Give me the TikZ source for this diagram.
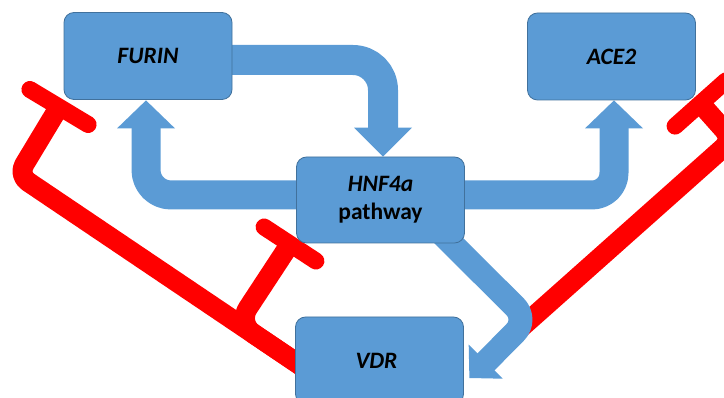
\documentclass[tikz,border=0pt]{standalone}
\usepackage{fontspec}
\setmainfont{Carlito}
\usetikzlibrary{calc}
\pgfdeclarelayer{redlayer}
\pgfdeclarelayer{bluelayer}
\pgfsetlayers{redlayer,bluelayer,main}
\definecolor{boxblue}{RGB}{91,155,213}
\definecolor{boxline}{RGB}{65,113,156}
\definecolor{inhred}{RGB}{255,0,0}
\begin{document}
\begin{tikzpicture}[x=1pt,y=-1pt,
  genebox/.style={rectangle, rounded corners=10pt, fill=boxblue, draw=boxline, line width=0.8pt,
    minimum width=168pt, minimum height=87pt, inner sep=0pt,
    font=\fontsize{23.5}{28}\selectfont\bfseries\itshape, text=black},
  shaft/.style={draw=boxblue, line cap=butt, line join=round},
  headfill/.style={fill=boxblue},
  inh/.style={draw=inhred, line width=20pt, line cap=butt, line join=round},
  tbar/.style={draw=inhred, line width=17pt, line cap=round},
]
\useasboundingbox (0,0) rectangle (724,398);

\node[genebox] (furin) at (148,56) {FURIN};
\node[genebox] (ace) at (611.5,56.5) {ACE2};
\node[genebox, minimum height=86pt, align=center] (hnf) at (380.5,200) {HNF4a\\{\upshape pathway}};
\node[genebox] (vdr) at (379.5,360.5) {VDR\hspace*{6pt}};

% blue activation arrows
\begin{pgfonlayer}{bluelayer}
% FURIN -> HNF4a
\coordinate (a1s) at ($(furin.east)+(-20,4)$);
\coordinate (a1e) at ($(hnf.north)+(2.5,-28)$);
\draw[shaft, line width=30pt, rounded corners=30pt] (a1s) -| (a1e);
\fill[headfill] ($(hnf.north)+(-26.5,-29)$) -- ($(hnf.north)+(31.5,-29)$) -- ($(hnf.north)+(2.5,0)$) -- cycle;
% HNF4a -> FURIN
\coordinate (hs) at ($(hnf.center)+(0,-5)$);
\coordinate (a2e) at ($(furin.south)+(-2,27.5)$);
\draw[shaft, line width=29pt, rounded corners=25pt] (hs) -| (a2e);
\fill[headfill] ($(furin.south)+(-31,28.5)$) -- ($(furin.south)+(27,28.5)$) -- ($(furin.south)+(-2,0.5)$) -- cycle;
% HNF4a -> ACE2
\coordinate (a3e) at ($(ace.south)+(2.5,27)$);
\draw[shaft, line width=29pt, rounded corners=22pt] (hs) -| (a3e);
\fill[headfill] ($(ace.south)+(-26.5,28)$) -- ($(ace.south)+(31.5,28)$) -- ($(ace.south)+(2.5,0)$) -- cycle;
% HNF4a -> VDR
\coordinate (a4s) at ($(hnf.center)+(49.5,22)$);
\coordinate (a4c) at ($(vdr.east)+(64,-41)$);
\coordinate (a4e) at ($(vdr.east)+(20.5,3)$);
\draw[shaft, line width=24pt, rounded corners=18pt] (a4s) -- (a4c) -- (a4e);
\fill[headfill] ($(vdr.east)+(4.8,-15.8)$) -- ($(vdr.east)+(38.8,18.2)$) -- ($(vdr.east)+(5.5,17.5)$) -- cycle;
\end{pgfonlayer}

% red inhibition lines
\begin{pgfonlayer}{redlayer}
\coordinate (rL) at ($(vdr.center)+(-49.5,24.8)$);
\coordinate (cL) at (18,175);
\coordinate (bL) at (59,107);
\draw[inh, rounded corners=12pt] (rL) -- (cL) -- (bL);
\draw[tbar] (29.9,89.5) -- (88.1,124.5);
% VDR -| HNF4a
\coordinate (jM) at (238,323.2);
\coordinate (bM) at (290,244);
\draw[inh, rounded corners=18pt] (rL) -- (jM) -- (bM);
\draw[tbar] (264.1,227) -- (315.9,261);
% VDR -| ACE2
\coordinate (rR) at ($(vdr.east)+(46.5,-23.4)$);
\coordinate (cR) at (732.5,139.5);
\coordinate (bR) at (700.5,103.5);
\draw[inh, rounded corners=12pt] (rR) -- (cR) -- (bR);
\draw[tbar] (675.1,126.1) -- (725.9,80.9);
\end{pgfonlayer}
\end{tikzpicture}
\end{document}
